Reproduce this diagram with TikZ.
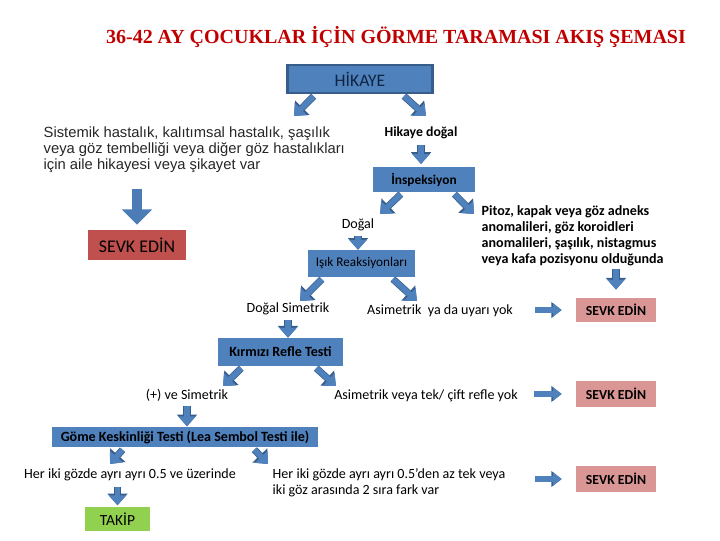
\documentclass[tikz,border=0pt]{standalone}
\usepackage{fontspec}
\setmainfont{Carlito}
\newfontfamily\arialfont{Liberation Sans}
\newfontfamily\timesfont{Liberation Serif}
\usetikzlibrary{arrows.meta}
\definecolor{boxblue}{HTML}{4F81BD}
\definecolor{lineblue}{HTML}{385D8A}
\definecolor{sevkred}{HTML}{C0504D}
\definecolor{sevkpink}{HTML}{D99694}
\definecolor{takipgreen}{HTML}{92D050}
\definecolor{titlered}{HTML}{C00000}
\definecolor{navytext}{HTML}{0F243E}
\tikzset{bluebox/.style={fill=boxblue, inner sep=0pt, text=black,
   font=\fontsize{9.4}{11}\selectfont},
 sevkbox/.style={fill=sevkpink, inner sep=0pt, minimum width=2cm, minimum height=0.62cm,
   font=\fontsize{9.8}{11}\selectfont\bfseries},
 lbl/.style={inner sep=1pt, font=\fontsize{10}{11.3}\selectfont},
 blk/.style={draw=boxblue, line width=4pt, -{Triangle[length=7pt,width=12pt]},
   preaction={draw=lineblue, line width=5pt, -{Triangle[length=8.4pt,width=14pt]}}},
 rarr/.style={draw=boxblue, line width=3.6pt, -{Triangle[length=6pt,width=9pt]},
   preaction={draw=lineblue, line width=4.6pt, -{Triangle[length=7.4pt,width=11pt]}}},
 bigarr/.style={draw=boxblue!85!lineblue, line width=7pt, -{Triangle[length=11pt,width=21pt]}},
 }

\begin{document}
\begin{tikzpicture}[x=0.025cm, y=-0.025cm]
\useasboundingbox (0,0) rectangle (720,540);
\node[text=titlered, font=\timesfont\bfseries\fontsize{14.2}{16}\selectfont] (title) at (396,37)
  {36-42 AY ÇOCUKLAR İÇİN GÖRME TARAMASI AKIŞ ŞEMASI};

\node[bluebox, draw=lineblue, line width=1.8pt, minimum width=3.62cm, minimum height=0.7cm,
  text=navytext, font=\fontsize{12.5}{14}\selectfont] (hikaye) at (360,79) {HİKAYE};
\node[lbl, anchor=west, align=left, font=\arialfont\fontsize{10.5}{11.3}\selectfont, text=black!85]
  (sist) at (42,150) {Sistemik hastalık, kalıtımsal hastalık, şaşılık\\veya göz tembelliği veya diğer göz hastalıkları\\için aile hikayesi veya şikayet var};
\node[lbl, font=\fontsize{9.8}{11}\selectfont\bfseries] (hdogal) at (421,133) {Hikaye doğal};
\node[bluebox, minimum width=2.55cm, minimum height=0.62cm, font=\fontsize{9.5}{11}\selectfont\bfseries]
  (insp) at (424,179.5) {İnspeksiyon};
\node[fill=sevkred, inner sep=0pt, minimum width=2.45cm, minimum height=0.75cm,
  font=\fontsize{12.7}{14}\selectfont] (sevk1) at (137,245) {SEVK EDİN};

\node[lbl] (dogal) at (358,225) {Doğal};
\node[lbl, anchor=west, align=left, font=\fontsize{10}{11.3}\selectfont\bfseries] (pitoz) at (480,236)
  {Pitoz, kapak veya göz adneks\\anomalileri, göz koroidleri\\anomalileri, şaşılık, nistagmus\\veya kafa pozisyonu olduğunda};
\node[bluebox, minimum width=2.67cm, minimum height=0.67cm] (isik) at (361.5,263.5) {Işık Reaksiyonları};

\node[lbl] (dsim) at (288,309) {Doğal Simetrik};
\node[lbl] (asim1) at (440,311) {Asimetrik\ \ ya da uyarı yok};
\node[sevkbox] (sevk2) at (616,310) {SEVK EDİN};

\node[bluebox, minimum width=3.12cm, minimum height=0.7cm, font=\fontsize{10}{11}\selectfont\bfseries]
  (kirmizi) at (280.5,352) {Kırmızı Refle Testi};
\node[lbl] (psim) at (187,395) {(+) ve Simetrik};
\node[lbl] (asim2) at (426,396) {Asimetrik veya tek/ çift refle yok};
\node[sevkbox, minimum height=0.65cm] (sevk3) at (616,394) {SEVK EDİN};

\node[bluebox, minimum width=6.65cm, minimum height=0.52cm, font=\fontsize{10}{11}\selectfont\bfseries]
  (gome) at (185,437) {Göme Keskinliği Testi (Lea Sembol Testi ile)};
\node[lbl] (her1) at (130,475) {Her iki gözde ayrı ayrı 0.5 ve üzerinde};
\node[lbl, anchor=west, align=left] (her2) at (271,483)
  {Her iki gözde ayrı ayrı 0.5’den az tek veya\\iki göz arasında 2 sıra fark var};
\node[sevkbox, minimum height=0.65cm] (sevk4) at (616,479) {SEVK EDİN};
\node[fill=takipgreen, inner sep=0pt, minimum width=1.62cm, minimum height=0.6cm,
  font=\fontsize{11}{12}\selectfont] (takip) at (117.5,519) {TAKİP};

\coordinate (hk-l) at (294,116);
\coordinate (hk-r) at (426,116);
\coordinate (in-l) at (380,214);
\coordinate (in-r) at (474,214);
\coordinate (ik-l) at (300,301);
\coordinate (ik-r) at (417,301);
\coordinate (kr-l) at (223,386);
\coordinate (kr-r) at (336,386);
\coordinate (gk-l) at (110,464);
\coordinate (gk-r) at (268,464);

\draw[blk, shorten <=2pt] (hikaye.199) -- (hk-l);
\draw[blk, shorten <=2pt] (hikaye.340) -- (hk-r);
\draw[blk, shorten <=2pt] (insp.211) -- (in-l);
\draw[blk, shorten <=2pt] (insp.336) -- (in-r);
\draw[blk, shorten <=2pt] (isik.200) -- (ik-l);
\draw[blk, shorten <=2pt] (isik.335) -- (ik-r);
\draw[blk, shorten <=2pt] (kirmizi.201) -- (kr-l);
\draw[blk, shorten <=2pt] (kirmizi.337) -- (kr-r);
\draw[blk, shorten <=2pt] (gome.190) -- (gk-l);
\draw[blk, shorten <=2pt] (gome.351) -- (gk-r);

\draw[bigarr, shorten <=10pt, shorten >=3.5pt] (sist.south -| sevk1.north) -- (sevk1.north);
\draw[blk, shorten <=3pt, shorten >=2pt] (hdogal.south) -- (hdogal.south |- insp.north);
\draw[blk, shorten <=2pt] (dogal.south) -- (dogal.south |- isik.north);
\draw[blk, shorten <=1pt, shorten >=5.5pt] (pitoz.south -| sevk2.north) -- (sevk2.north);
\draw[blk, shorten <=2pt] (dsim.south) -- (dsim.south |- kirmizi.north);
\draw[blk, shorten <=2pt] (psim.south) -- (psim.south |- gome.north);
\draw[blk, shorten <=3pt, shorten >=1pt] (takip.north |- her1.south) -- (takip.north);

\draw[rarr, shorten <=14.5pt, shorten >=10pt] (asim1.east |- sevk2.west) -- (sevk2.west);
\draw[rarr, shorten <=10.6pt, shorten >=10pt] (asim2.east |- sevk3.west) -- (sevk3.west);
\draw[rarr, shorten <=20pt, shorten >=10pt] (her2.east |- sevk4.west) -- (sevk4.west);
\end{tikzpicture}
\end{document}
